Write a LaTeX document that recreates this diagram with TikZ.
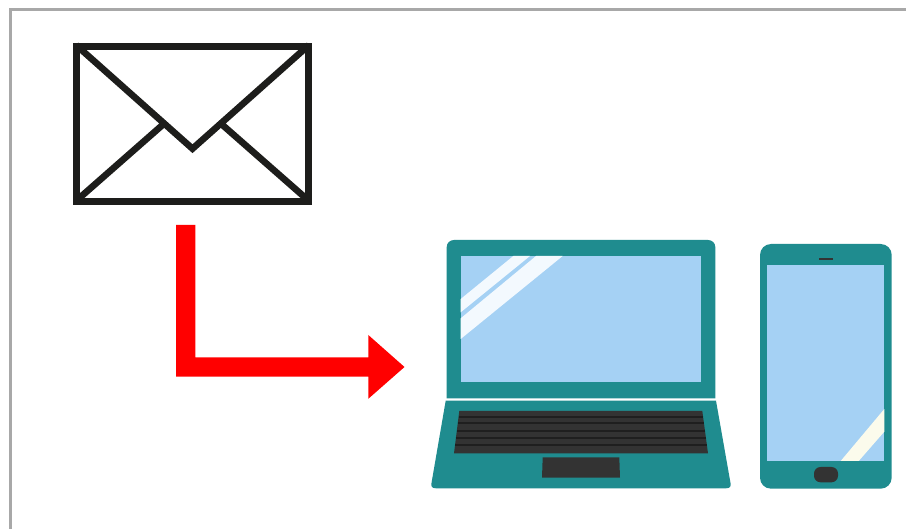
\documentclass[tikz,border=0pt]{standalone}
\definecolor{frameg}{HTML}{A8A8A8}
\definecolor{envblack}{HTML}{1D1D1B}
\definecolor{teal1}{HTML}{1F8C8F}
\definecolor{screenb}{HTML}{A5D1F4}
\definecolor{glare}{HTML}{F3F9FE}
\definecolor{glarey}{HTML}{FBFBEC}
\definecolor{keyd}{HTML}{333333}
\definecolor{keyl}{HTML}{1F1F1F}
\tikzset{
  envline/.style={draw=envblack,line width=6.6pt,line cap=butt},
  bodyfill/.style={fill=teal1},
  screenfill/.style={fill=screenb},
  darkfill/.style={fill=keyd},
  keygap/.style={draw=keyl,line width=2pt}
}
\begin{document}
\begin{tikzpicture}[x=1pt,y=-1pt]
\useasboundingbox (0,0) rectangle (906,529);
\clip (0,0) rectangle (906,529);
\fill[white] (0,0) rectangle (906,529);
% frame
\draw[frameg,line width=3pt] (910,10) -- (10,10) -- (10,533);
% envelope
\begin{scope}
\clip (73,43) rectangle (312.3,204.7);
\draw[envline] (76,45) -- (192.5,148.7) -- (309,45);
\draw[envline] (162.5,125) -- (76,201);
\draw[envline] (222.5,125) -- (309,201);
\end{scope}
\draw[envblack,line width=7pt] (76.5,46.5) rectangle (308.8,201.2);
% red arrow
\fill[red] (176,225) -- (195.4,225) -- (195.4,357.3) -- (368.3,357.3) -- (368.3,335) -- (404.5,367) -- (368.3,398.8) -- (368.3,376.7) -- (176,376.7) -- cycle;
% laptop lid
\fill[bodyfill] (446.7,398.3) -- (446.7,247) .. controls (446.7,243) and (450,240) .. (454,240) -- (708,240) .. controls (712,240) and (715.3,243) .. (715.3,247) -- (715.3,398.3) -- cycle;
\fill[screenfill] (460.7,256) rectangle (701,382.3);
\fill[glare] (460.7,299) -- (513.3,256) -- (530,256) -- (460.7,312.3) -- cycle;
\fill[glare] (460.7,318.3) -- (536,256) -- (562.7,256) -- (460.7,339) -- cycle;
% laptop base
\fill[bodyfill] (445.7,400.7) -- (716,400.7) -- (730.5,483) .. controls (731.2,486.5) and (730,488.3) .. (726,488.3) -- (436,488.3) .. controls (432,488.3) and (430.8,486.5) .. (431.5,483) -- cycle;
\fill[darkfill] (459.3,411) -- (702.3,411) -- (708,453.3) -- (454,453.3) -- cycle;
\draw[keygap] (458.6,416.7) -- (703,416.7);
\draw[keygap] (457.7,423.5) -- (704,423.5);
\draw[keygap] (456.8,430.7) -- (705,430.7);
\draw[keygap] (455.9,438) -- (706,438);
\draw[keygap] (455,445.3) -- (707,445.3);
\fill[darkfill] (542.7,457.3) -- (619.3,457.3) -- (620,477.7) -- (542,477.7) -- cycle;
% phone
\fill[bodyfill,rounded corners=11pt] (760,244) rectangle (891.7,488.7);
\fill[screenfill] (767.3,265.3) rectangle (884.3,461);
\fill[glarey] (884.3,409) -- (884.3,431.7) -- (858.7,461) -- (840.7,461) -- cycle;
\fill[keyd] (819,258.3) rectangle (833.3,259.9);
\fill[darkfill,rounded corners=6.5pt] (814,467) rectangle (838,482.3);
\end{tikzpicture}
\end{document}
